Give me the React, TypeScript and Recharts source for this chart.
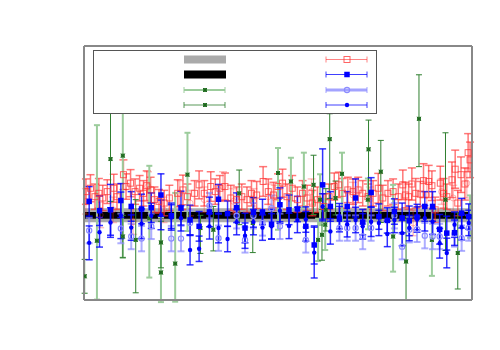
import { ComposedChart, Area, Scatter, ErrorBar, XAxis, YAxis, Legend } from 'recharts';

const xTicks = [0, 1, 2, 3, 4, 5, 6];
const yTicks = [-2, -1, 0, 1, 2, 3, 4];

// reference bands (gray = wide, black = narrow)
const bandX = [0, 6];
const grayHalf = [0.165, 0.165];
const blackHalf = [0.08, 0.08];

// red open squares
const redX = [0.03, 0.10, 0.17, 0.23, 0.29, 0.36, 0.46, 0.51, 0.61, 0.65, 0.72, 0.79, 0.86, 0.92, 0.97, 1.03, 1.09, 1.16, 1.24, 1.32, 1.45, 1.53, 1.60, 1.71, 1.78, 1.86, 1.96, 2.03, 2.10, 2.18, 2.27, 2.36, 2.44, 2.52, 2.59, 2.67, 2.77, 2.85, 2.93, 3.00, 3.07, 3.14, 3.22, 3.30, 3.38, 3.45, 3.53, 3.61, 3.71, 3.79, 3.87, 3.94, 4.00, 4.08, 4.16, 4.24, 4.31, 4.39, 4.47, 4.55, 4.62, 4.70, 4.78, 4.86, 4.93, 4.97, 5.02, 5.07, 5.13, 5.20, 5.25, 5.33, 5.38, 5.43, 5.51, 5.56, 5.61, 5.69, 5.74, 5.78, 5.83, 5.89, 5.94, 5.97];
const redY = [0.56, 0.64, 0.44, 0.52, 0.41, 0.56, 0.64, 0.44, 0.96, 0.68, 0.76, 0.56, 0.64, 0.52, 0.70, 0.60, 0.37, 0.33, 0.29, 0.41, 0.52, 0.60, 0.44, 0.52, 0.72, 0.52, 0.68, 0.56, 0.64, 0.68, 0.41, 0.37, 0.44, 0.37, 0.52, 0.48, 0.80, 0.56, 0.48, 0.68, 0.76, 0.44, 0.64, 0.37, 0.52, 0.41, 0.29, 0.37, 0.21, 0.44, 0.68, 0.72, 0.52, 0.60, 0.56, 0.60, 0.52, 0.44, 0.52, 0.64, 0.41, 0.52, 0.56, 0.44, 0.72, 0.48, 0.44, 0.74, 0.52, 0.50, 0.82, 0.80, 0.70, 0.13, 0.76, 0.52, 0.44, 0.84, 1.09, 0.29, 0.96, 0.74, 1.48, 1.31];
const redErr = [0.3, 0.32, 0.3, 0.35, 0.3, 0.28, 0.33, 0.3, 0.35, 0.3, 0.32, 0.3, 0.3, 0.3, 0.35, 0.3, 0.3, 0.28, 0.3, 0.3, 0.32, 0.35, 0.3, 0.3, 0.33, 0.3, 0.35, 0.3, 0.3, 0.32, 0.3, 0.3, 0.3, 0.3, 0.3, 0.32, 0.35, 0.3, 0.3, 0.3, 0.33, 0.3, 0.3, 0.3, 0.3, 0.3, 0.3, 0.3, 0.3, 0.3, 0.32, 0.3, 0.35, 0.3, 0.3, 0.3, 0.3, 0.3, 0.3, 0.35, 0.3, 0.3, 0.3, 0.3, 0.35, 0.3, 0.3, 0.38, 0.35, 0.3, 0.4, 0.38, 0.35, 0.3, 0.4, 0.35, 0.3, 0.42, 0.45, 0.3, 0.42, 0.38, 0.45, 0.42];

// lighter red points near the band
const pinkX = [0.03, 0.25, 0.45, 0.76, 0.99, 1.23, 1.48, 1.64, 1.86, 2.15, 2.31, 2.62, 2.85, 2.95, 3.52, 4.16, 4.42, 5.09, 5.30, 5.53, 5.71, 5.92];
const pinkY = [0.33, 0.01, 0.13, -0.15, 0.68, 0.13, 0.52, 0.29, 0.37, 0.68, 0.33, 0.33, 0.44, 0.41, 0.56, 0.48, 0.37, -0.18, 0.48, 0.56, 0.41, 0.76];
const pinkErr = [0.3, 0.3, 0.3, 0.3, 0.35, 0.3, 0.3, 0.3, 0.3, 0.35, 0.3, 0.3, 0.3, 0.3, 0.3, 0.3, 0.3, 0.3, 0.3, 0.3, 0.3, 0.35];

// blue series share x positions
const blueX = [0.08, 0.24, 0.41, 0.57, 0.73, 0.89, 1.04, 1.19, 1.35, 1.50, 1.64, 1.78, 1.94, 2.08, 2.22, 2.36, 2.49, 2.62, 2.76, 2.90, 3.03, 3.17, 3.30, 3.43, 3.56, 3.69, 3.81, 3.95, 4.07, 4.20, 4.31, 4.44, 4.56, 4.69, 4.80, 4.92, 5.03, 5.15, 5.27, 5.39, 5.50, 5.61, 5.73, 5.84, 5.95];
const blueSqY = [0.33, 0.11, 0.13, 0.35, 0.21, 0.15, 0.18, 0.48, -0.01, 0.17, -0.11, -0.26, 0.08, 0.38, 0.04, 0.18, -0.30, 0.07, 0.08, -0.21, 0.25, 0.13, 0.15, -0.26, -0.70, 0.72, 0.21, -0.09, 0.21, 0.41, -0.16, 0.54, -0.03, -0.12, 0.09, -0.06, -0.13, -0.04, 0.21, 0.21, -0.33, -0.42, -0.41, 0.05, -0.03];
const blueSqErr = [0.35, 0.35, 0.6, 0.4, 0.35, 0.35, 0.35, 0.5, 0.3, 0.4, 0.35, 0.35, 0.35, 0.35, 0.3, 0.35, 0.35, 0.35, 0.3, 0.35, 0.4, 0.35, 0.3, 0.35, 0.45, 0.85, 0.35, 0.3, 0.35, 0.45, 0.3, 0.35, 0.3, 0.3, 0.3, 0.35, 0.35, 0.3, 0.35, 0.35, 0.35, 0.4, 0.3, 0.35, 0.3];
const blueDotY = [-0.65, -0.40, -0.17, 0.00, -0.29, -0.20, -0.01, 0.01, -0.05, -0.07, -0.82, -0.79, -0.26, -0.30, -0.56, -0.16, -0.48, -0.16, -0.29, -0.26, 0.11, -0.25, -0.11, -0.10, -0.88, 0.21, -0.38, -0.02, -0.21, -0.11, -0.26, -0.15, -0.18, -0.44, -0.11, -0.42, -0.30, -0.10, -0.07, -0.15, -0.66, -0.89, -0.22, -0.28, -0.18];
const blueDotErr = [0.4, 0.35, 0.35, 0.55, 0.3, 0.35, 0.3, 0.35, 0.3, 0.3, 0.35, 0.3, 0.3, 0.35, 0.3, 0.3, 0.3, 0.3, 0.3, 0.3, 0.3, 0.3, 0.3, 0.3, 0.6, 0.3, 0.3, 0.3, 0.3, 0.3, 0.3, 0.35, 0.3, 0.3, 0.3, 0.3, 0.3, 0.3, 0.3, 0.3, 0.35, 0.35, 0.3, 0.3, 0.3];

// light blue open circles
const circX = [0.08, 0.57, 0.73, 0.89, 1.04, 1.35, 1.50, 1.64, 1.94, 2.08, 2.36, 2.49, 2.62, 2.76, 2.90, 3.03, 3.43, 3.95, 4.07, 4.20, 4.31, 4.44, 4.80, 4.92, 5.03, 5.15, 5.27, 5.39, 5.50, 5.73, 5.84, 5.95];
const circY = [-0.36, -0.31, -0.50, -0.55, -0.26, -0.55, -0.55, -0.18, 0.23, -0.54, -0.01, -0.58, -0.01, -0.18, 0.17, -0.26, -0.58, -0.30, -0.30, -0.30, -0.50, -0.30, -0.01, -0.74, -0.34, -0.33, -0.48, -0.50, -0.50, -0.44, -0.54, -0.30];
const circErr = [0.3, 0.35, 0.3, 0.3, 0.3, 0.3, 0.3, 0.3, 0.3, 0.3, 0.3, 0.3, 0.3, 0.3, 0.3, 0.3, 0.3, 0.3, 0.3, 0.3, 0.3, 0.3, 0.3, 0.3, 0.3, 0.3, 0.3, 0.3, 0.3, 0.3, 0.3, 0.3];

// light green markers (asymmetric errors: down, up)
const lgX = [0.20, 0.60, 1.01, 1.19, 1.41, 1.60, 3.00, 3.20, 3.40, 3.62, 3.65, 3.73, 3.99, 4.39, 4.78, 5.38, 5.97];
const lgY = [-0.60, 1.41, -0.07, -1.35, -1.14, 0.96, 1.00, 0.80, 0.68, -0.58, 0.37, -0.22, 0.98, 0.37, -0.50, -0.58, -0.03];
const lgLo = [1.39, 2.41, 1.40, 0.70, 0.90, 1.33, 1.34, 0.67, 0.50, 0.50, 0.60, 0.60, 1.10, 0.70, 0.83, 0.85, 0.50];
const lgHi = [2.73, 1.40, 1.24, 1.30, 1.67, 0.99, 0.59, 0.56, 0.80, 0.50, 0.60, 0.60, 0.50, 0.50, 1.22, 0.70, 0.50];

// dark green markers
const dgX = [0.01, 0.41, 0.60, 0.80, 1.19, 1.80, 2.00, 2.40, 2.61, 3.55, 3.68, 3.74, 3.80, 3.89, 4.40, 4.59, 4.98, 5.18, 5.59, 5.78];
const dgY = [-1.44, 1.33, -0.50, -0.58, -0.64, -0.30, -0.34, 0.52, -0.18, 0.72, -0.46, 0.13, 1.80, 0.41, 1.56, 1.03, -1.09, 2.28, 0.37, -0.89];
const dgLo = [0.40, 1.00, 0.50, 1.25, 0.60, 0.60, 0.50, 0.74, 0.70, 0.70, 0.60, 0.50, 1.40, 0.40, 1.10, 1.20, 0.91, 1.13, 1.20, 0.85];
const dgHi = [0.40, 1.50, 0.50, 0.95, 0.50, 0.30, 0.55, 0.55, 0.60, 0.70, 0.60, 0.50, 0.60, 0.40, 0.69, 0.74, 1.06, 1.04, 1.58, 0.95];

const bandData = bandX.map((x, i) => ({
  x,
  gray: [-grayHalf[i], grayHalf[i]],
  black: [-blackHalf[i], blackHalf[i]],
}));
const redData = redX.map((x, i) => ({ x, y: redY[i], e: redErr[i] }));
const pinkData = pinkX.map((x, i) => ({ x, y: pinkY[i], e: pinkErr[i] }));
const blueSqData = blueX.map((x, i) => ({ x, y: blueSqY[i], e: blueSqErr[i] }));
const blueDotData = blueX.map((x, i) => ({ x, y: blueDotY[i], e: blueDotErr[i] }));
const circData = circX.map((x, i) => ({ x, y: circY[i], e: circErr[i] }));
const lgData = lgX.map((x, i) => ({ x, y: lgY[i], e: [lgLo[i], lgHi[i]] }));
const dgData = dgX.map((x, i) => ({ x, y: dgY[i], e: [dgLo[i], dgHi[i]] }));

const RED = '#ff3030';
const BLUE = '#0000ff';
const LBLUE = '#8c8cff';
const DGREEN = '#2f7f2f';
const LGREEN = '#9ccc9c';

const openSquare = (p: any) => (
  <rect x={p.cx - 3} y={p.cy - 3} width={6} height={6} fill="none" stroke={RED} strokeOpacity={0.75} />
);
const pinkCircle = (p: any) => (
  <circle cx={p.cx} cy={p.cy} r={3} fill="none" stroke={RED} strokeOpacity={0.35} />
);
const filledSquare = (p: any) => (
  <rect x={p.cx - 2.75} y={p.cy - 2.75} width={5.5} height={5.5} fill={BLUE} />
);
const smallDot = (p: any) => <circle cx={p.cx} cy={p.cy} r={2.2} fill={BLUE} />;
const openCircle = (p: any) => (
  <circle cx={p.cx} cy={p.cy} r={2.6} fill="none" stroke={LBLUE} strokeWidth={1.2} />
);
const greenMark = (p: any) => (
  <g>
    <rect x={p.cx - 2} y={p.cy - 2} width={4} height={4} fill={DGREEN} />
    <line x1={p.cx - 2} y1={p.cy - 2} x2={p.cx + 2} y2={p.cy + 2} stroke="#1d5a1d" strokeWidth={0.8} />
    <line x1={p.cx - 2} y1={p.cy + 2} x2={p.cx + 2} y2={p.cy - 2} stroke="#1d5a1d" strokeWidth={0.8} />
  </g>
);

function LegendRow({ x, y, color, width, opacity }: any) {
  return (
    <g stroke={color} strokeWidth={width} strokeOpacity={opacity}>
      <line x1={x} y1={y} x2={x + 41} y2={y} />
      <line x1={x} y1={y - 3} x2={x} y2={y + 3} strokeWidth={1} />
      <line x1={x + 41} y1={y - 3} x2={x + 41} y2={y + 3} strokeWidth={1} />
    </g>
  );
}

function LegendBox() {
  const lx = 91;
  const rx = 233;
  return (
    <svg width={285} height={65} style={{ display: 'block' }}>
      <rect x={0.5} y={0.5} width={283} height={63} fill="#fff" stroke="#555" />
      <rect x={lx} y={5.5} width={42} height={8} fill="#aaaaaa" />
      <rect x={lx} y={20.5} width={42} height={8} fill="#000" />
      <LegendRow x={lx} y={40} color={LGREEN} width={2} opacity={1} />
      {greenMark({ cx: lx + 21, cy: 40 })}
      <LegendRow x={lx} y={55} color={DGREEN} width={1} opacity={0.8} />
      {greenMark({ cx: lx + 21, cy: 55 })}
      <LegendRow x={rx} y={9.5} color={RED} width={1} opacity={0.6} />
      {openSquare({ cx: rx + 21, cy: 9.5 })}
      <LegendRow x={rx} y={24.5} color={BLUE} width={1} opacity={0.75} />
      {filledSquare({ cx: rx + 21, cy: 24.5 })}
      <LegendRow x={rx} y={40} color={LBLUE} width={3} opacity={0.8} />
      {openCircle({ cx: rx + 21, cy: 40 })}
      <LegendRow x={rx} y={55} color={BLUE} width={1} opacity={0.75} />
      {smallDot({ cx: rx + 21, cy: 55 })}
    </svg>
  );
}

const axisStroke = '#888888';

export default function App() {
  return (
    <div style={{ position: 'absolute', left: 0, top: 0, width: 500, height: 350 }}>
      <ComposedChart
        width={500}
        height={350}
        data={bandData}
        margin={{ top: 46, right: 28, bottom: 50, left: 84 }}
      >
        <XAxis type="number" dataKey="x" domain={[0, 6]} ticks={xTicks} allowDataOverflow
          tick={false} mirror height={20} tickSize={5}
          axisLine={{ stroke: axisStroke, strokeWidth: 2 }} tickLine={{ stroke: '#666' }} />
        <XAxis xAxisId="top" orientation="top" type="number" dataKey="x" domain={[0, 6]} ticks={xTicks}
          allowDataOverflow tick={false} mirror height={20} tickSize={5}
          axisLine={{ stroke: axisStroke, strokeWidth: 2 }} tickLine={{ stroke: '#666' }} />
        <YAxis type="number" dataKey="y" domain={[-2, 4]} ticks={yTicks} allowDataOverflow
          tick={false} mirror width={20} tickSize={5}
          axisLine={{ stroke: axisStroke, strokeWidth: 2 }} tickLine={{ stroke: '#666' }} />
        <YAxis yAxisId="right" orientation="right" type="number" dataKey="y" domain={[-2, 4]} ticks={yTicks}
          allowDataOverflow tick={false} mirror width={20} tickSize={5}
          axisLine={{ stroke: axisStroke, strokeWidth: 2 }} tickLine={{ stroke: axisStroke, strokeWidth: 2 }} />

        <Area dataKey="gray" type="linear" stroke="none" fill="#aaaaaa" fillOpacity={1} isAnimationActive={false} />
        <Area dataKey="black" type="linear" stroke="none" fill="#000000" fillOpacity={1} isAnimationActive={false} />

        <Scatter data={pinkData} shape={pinkCircle} isAnimationActive={false}>
          <ErrorBar dataKey="e" direction="y" width={4} stroke={RED} strokeOpacity={0.3} />
        </Scatter>
        <Scatter data={redData} shape={openSquare} isAnimationActive={false}>
          <ErrorBar dataKey="e" direction="y" width={4} stroke={RED} strokeOpacity={0.65} />
        </Scatter>
        <Scatter data={lgData} shape={greenMark} isAnimationActive={false}>
          <ErrorBar dataKey="e" direction="y" width={3} stroke={LGREEN} strokeWidth={2} />
        </Scatter>
        <Scatter data={dgData} shape={greenMark} isAnimationActive={false}>
          <ErrorBar dataKey="e" direction="y" width={3} stroke={DGREEN} strokeWidth={1} />
        </Scatter>
        <Scatter data={circData} shape={openCircle} isAnimationActive={false}>
          <ErrorBar dataKey="e" direction="y" width={3.5} stroke={LBLUE} strokeWidth={2} strokeOpacity={0.7} />
        </Scatter>
        <Scatter data={blueDotData} shape={smallDot} isAnimationActive={false}>
          <ErrorBar dataKey="e" direction="y" width={3.5} stroke={BLUE} strokeOpacity={0.8} />
        </Scatter>
        <Scatter data={blueSqData} shape={filledSquare} isAnimationActive={false}>
          <ErrorBar dataKey="e" direction="y" width={3.5} stroke={BLUE} strokeOpacity={0.8} />
        </Scatter>

        <Legend
          layout="horizontal"
          align="center"
          verticalAlign="middle"
          content={() => <LegendBox />}
          wrapperStyle={{ position: 'absolute', left: 93, top: 50, width: 285, height: 65 }}
        />
      </ComposedChart>
    </div>
  );
}
